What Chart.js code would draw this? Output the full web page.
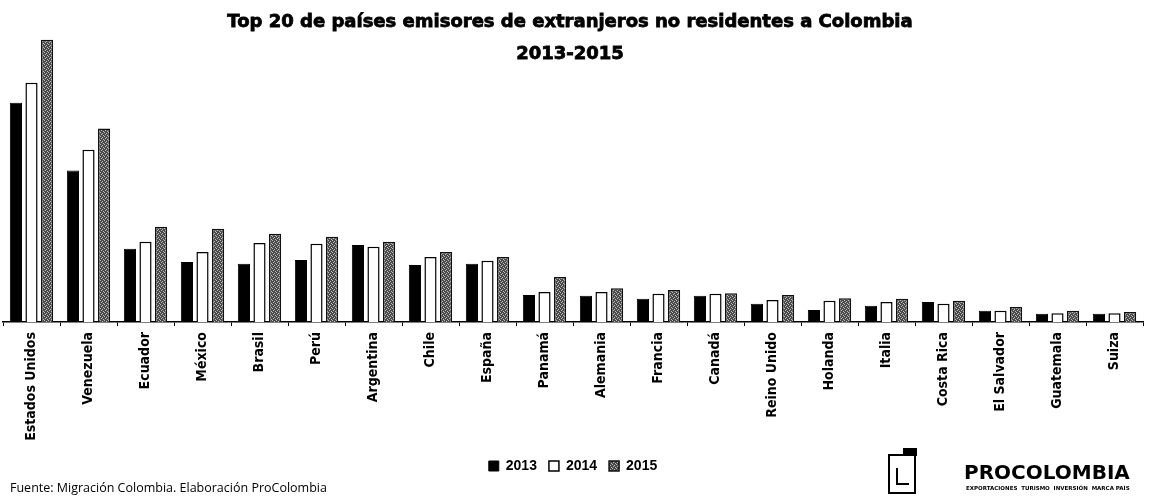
<!DOCTYPE html>
<html>
<head>
<meta charset="utf-8">
<script src="https://cdn.jsdelivr.net/npm/chart.js@4/dist/chart.umd.min.js"></script>
<style>
  html, body { margin: 0; padding: 0; background: #fff; }
  #wrap { width: 1150px; height: 500px; position: relative; }
</style>
</head>
<body>
<div id="wrap"><canvas id="c" width="1150" height="500"></canvas></div>
<script>
// Data (thousands of visitors)
const categories = ["Estados Unidos","Venezuela","Ecuador","México","Brasil","Perú","Argentina","Chile","España","Panamá","Alemania","Francia","Canadá","Reino Unido","Holanda","Italia","Costa Rica","El Salvador","Guatemala","Suiza"];
const seriesNames = ["2013","2014","2015"];
const values2013 = [350, 242, 117, 96, 93, 99, 123, 91, 93, 43, 42, 37, 42, 29, 19, 26, 32, 18, 13, 13];
const values2014 = [382, 275, 128, 112, 126, 125, 120, 104, 98, 48, 48, 45, 45, 35, 34, 32, 29, 18, 14, 14];
const values2015 = [451, 309, 152, 149, 141, 136, 128, 112, 104, 72, 54, 51, 46, 43, 38, 37, 34, 24, 18, 16];
const titleLines = ["Top 20 de países emisores de extranjeros no residentes a Colombia", "2013-2015"];
const sourceText = "Fuente: Migración Colombia. Elaboración ProColombia";
const logoText = "PROCOLOMBIA";
const logoSub = "EXPORTACIONES  TURISMO  INVERSIÓN  MARCA PAÍS";

// stipple pattern for 2015
function makePattern() {
  const p = document.createElement('canvas');
  p.width = 4; p.height = 4;
  const g = p.getContext('2d');
  g.fillStyle = '#4a4a4a'; g.fillRect(0, 0, 4, 4);
  g.fillStyle = '#bdbdbd';
  g.fillRect(0, 0, 1, 1); g.fillRect(2, 1, 1, 1); g.fillRect(1, 2, 1, 1); g.fillRect(3, 3, 1, 1);
  return g.createPattern(p, 'repeat');
}
const pattern2015 = makePattern();

const decorPlugin = {
  id: 'decor',
  afterDraw(chart) {
    const ctx = chart.ctx;
    ctx.save();
    // title
    ctx.fillStyle = '#000';
    ctx.strokeStyle = '#000';
    ctx.lineWidth = 0.8;
    ctx.textAlign = 'center';
    ctx.textBaseline = 'middle';
    ctx.font = 'bold 18px "DejaVu Sans"';
    ctx.fillText(titleLines[0], 570, 22);
    ctx.strokeText(titleLines[0], 570, 22);
    ctx.fillText(titleLines[1], 570, 54);
    ctx.strokeText(titleLines[1], 570, 54);
    // source
    ctx.textAlign = 'left';
    ctx.font = '12.5px "Open Sans"';
    ctx.fillText(sourceText, 10, 488);
    // logo icon
    ctx.lineWidth = 2;
    ctx.strokeRect(889, 455, 26, 38);
    ctx.fillRect(903, 448, 14, 8);
    ctx.beginPath();
    ctx.moveTo(897, 468); ctx.lineTo(897, 484); ctx.lineTo(909, 484);
    ctx.stroke();
    // logo text
    ctx.font = 'bold 20px "DejaVu Sans"';
    ctx.textBaseline = 'alphabetic';
    ctx.fillText(logoText, 964, 479);
    ctx.font = 'bold 5.5px "DejaVu Sans"';
    ctx.fillText(logoSub, 966, 490);
    ctx.restore();
  }
};

new Chart(document.getElementById('c'), {
  type: 'bar',
  data: {
    labels: categories,
    datasets: [
      { label: seriesNames[0], data: values2013, backgroundColor: '#000', borderColor: '#000', borderWidth: 1 },
      { label: seriesNames[1], data: values2014, backgroundColor: '#fff', borderColor: '#000', borderWidth: 1.5 },
      { label: seriesNames[2], data: values2015, backgroundColor: pattern2015, borderColor: '#111', borderWidth: 1.5 }
    ]
  },
  options: {
    responsive: false,
    animation: false,
    devicePixelRatio: 1,
    datasets: { bar: { categoryPercentage: 0.82, barPercentage: 0.78 } },
    layout: { padding: { top: 34, left: 3, right: 7, bottom: 17 } },
    plugins: {
      legend: {
        position: 'bottom',
        labels: {
          boxWidth: 10, boxHeight: 10, padding: 12,
          color: '#000',
          font: { family: '"Liberation Sans"', size: 14, weight: 'bold' }
        }
      },
      title: { display: false },
      tooltip: { enabled: false }
    },
    scales: {
      x: {
        afterFit(scale) { scale.height = 125; },
        grid: { drawOnChartArea: false, drawTicks: true, tickLength: 4, color: '#000', offset: true },
        border: { color: '#000', width: 1.5 },
        ticks: {
          color: '#000', minRotation: 90, maxRotation: 90, autoSkip: false, padding: 6,
          font: { family: '"DejaVu Sans Condensed", "DejaVu Sans"', size: 14, weight: 'bold' }
        }
      },
      y: {
        display: false,
        min: 0, max: 460
      }
    }
  },
  plugins: [decorPlugin]
});
</script>
</body>
</html>
